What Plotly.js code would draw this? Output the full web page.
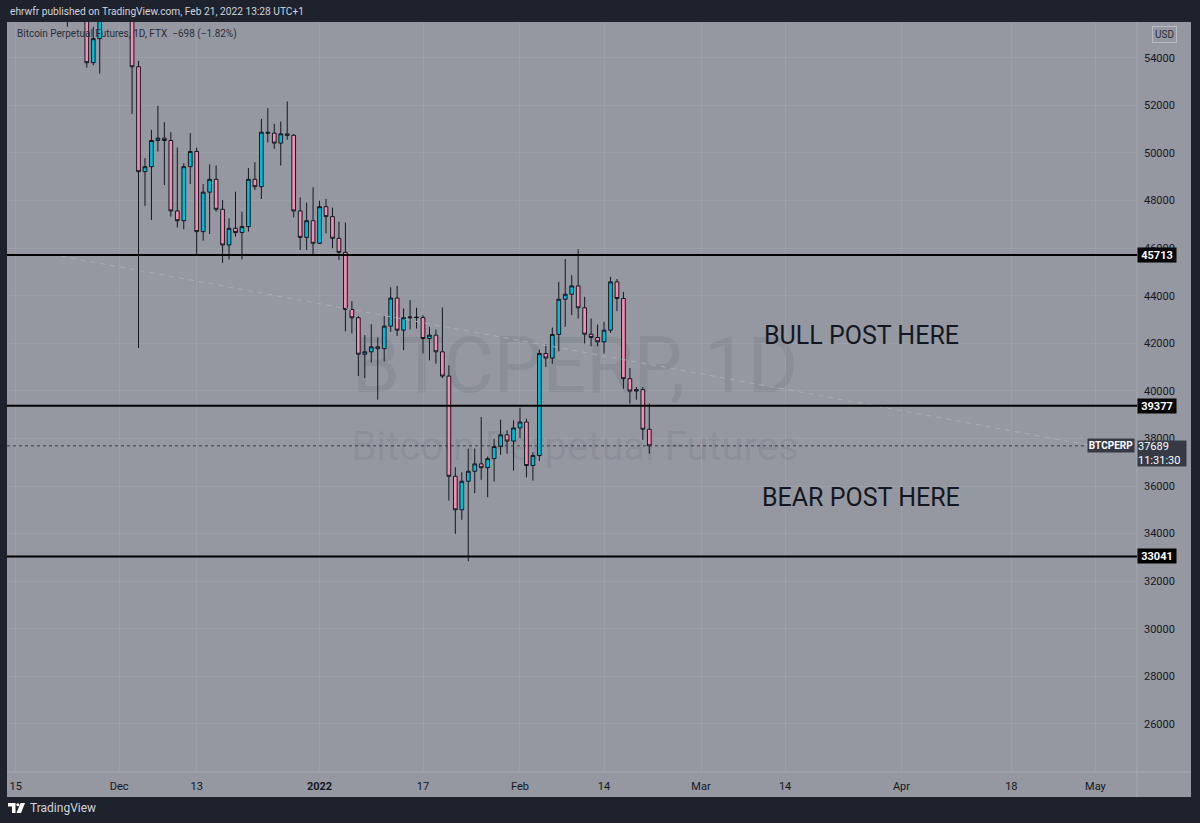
<!DOCTYPE html>
<html>
<head>
<meta charset="utf-8">
<script src="https://cdn.plot.ly/plotly-3.0.1.min.js"></script>
<style>
  html, body { margin: 0; padding: 0; background: #1e222d; }
  #chart { width: 1200px; height: 823px; }
</style>
</head>
<body>
<div id="chart"></div>
<script>
// ---------------- DATA ----------------
const dates = [
  '2021-11-14','2021-11-15','2021-11-16','2021-11-17','2021-11-18','2021-11-19','2021-11-20','2021-11-21',
  '2021-11-22','2021-11-23','2021-11-24','2021-11-25','2021-11-26','2021-11-27','2021-11-28','2021-11-29',
  '2021-11-30','2021-12-01','2021-12-02','2021-12-03','2021-12-04','2021-12-05','2021-12-06','2021-12-07',
  '2021-12-08','2021-12-09','2021-12-10','2021-12-11','2021-12-12','2021-12-13','2021-12-14','2021-12-15',
  '2021-12-16','2021-12-17','2021-12-18','2021-12-19','2021-12-20','2021-12-21','2021-12-22','2021-12-23',
  '2021-12-24','2021-12-25','2021-12-26','2021-12-27','2021-12-28','2021-12-29','2021-12-30','2021-12-31',
  '2022-01-01','2022-01-02','2022-01-03','2022-01-04','2022-01-05','2022-01-06','2022-01-07','2022-01-08',
  '2022-01-09','2022-01-10','2022-01-11','2022-01-12','2022-01-13','2022-01-14','2022-01-15','2022-01-16',
  '2022-01-17','2022-01-18','2022-01-19','2022-01-20','2022-01-21','2022-01-22','2022-01-23','2022-01-24',
  '2022-01-25','2022-01-26','2022-01-27','2022-01-28','2022-01-29','2022-01-30','2022-01-31','2022-02-01',
  '2022-02-02','2022-02-03','2022-02-04','2022-02-05','2022-02-06','2022-02-07','2022-02-08','2022-02-09',
  '2022-02-10','2022-02-11','2022-02-12','2022-02-13','2022-02-14','2022-02-15','2022-02-16','2022-02-17',
  '2022-02-18','2022-02-19','2022-02-20','2022-02-21'
];
const openP = [
  64400,65500,63600,60300,60400,56900,58100,59700,
  58700,56300,57600,57200,58900,53790,54800,57300,
  57800,57000,57200,56500,53620,49210,49420,50520,
  50620,50520,47560,47150,49420,50060,46690,48350,
  48890,47630,46130,46830,46650,46900,48890,48580,
  50870,50830,50410,50800,50740,47560,46450,47150,
  46200,47740,47320,46410,45820,43420,43070,41540,
  41640,41850,41770,42720,43900,42550,43070,43100,
  43080,42200,42340,41640,40620,36410,35000,36200,
  36620,36930,36770,37150,37660,38150,37890,38440,
  38690,36860,37280,41570,41380,42370,43850,44060,
  44410,43490,42380,42240,42060,42550,44580,43880,
  40510,39990,40050,38387
];
const highP = [
  65500,66300,63600,60800,60900,58300,59800,60000,
  59300,57900,57700,59400,59200,55300,57400,58900,
  59200,59100,57400,57600,53870,49780,50970,51980,
  51290,50870,50220,49560,50830,50220,48690,49520,
  49470,48020,47250,48370,47530,49360,49610,51430,
  51880,51220,51320,52160,50790,48130,47910,48550,
  47990,48060,47700,47110,47070,43770,43140,42340,
  42800,42240,43140,44350,44410,43460,43810,43490,
  43180,42690,42580,43500,41070,36790,36580,37570,
  37570,38900,37240,37990,38790,38340,38760,39290,
  38830,37420,41730,41960,42660,44580,45540,44860,
  45950,43950,43040,42790,42900,44790,44700,44160,
  40960,40160,40160,39460
];
const lowP = [
  63600,63500,58600,58400,56400,55700,57400,58500,
  55700,55300,55900,57000,53580,53680,53330,56700,
  56600,56500,55800,51640,41800,47770,47180,50060,
  48650,47320,46870,46790,48690,45710,46310,46590,
  47530,45380,45520,46480,45520,46690,48440,48060,
  50440,50170,49470,50550,47290,45920,45920,45700,
  46170,46620,45990,45500,42500,42410,40620,40540,
  41190,39630,41240,42480,42300,41710,42580,42620,
  41570,41280,41140,40540,35390,33990,34580,32840,
  35700,36260,35530,36190,37310,37360,36650,38010,
  36370,36230,37050,41000,41140,41660,42690,43180,
  43040,41990,41870,41870,41570,42440,43350,40090,
  39460,39630,37940,37360
];
const closeP = [
  65500,63600,60300,60400,56900,58100,59700,58700,
  56300,57600,57200,58900,53790,54800,57300,57800,
  57000,57200,56500,53620,49210,49420,50520,50620,
  50520,47560,47150,49420,50060,46690,48350,48890,
  47630,46130,46830,46650,46900,48890,48580,50870,
  50830,50410,50800,50740,47560,46450,47150,46200,
  47740,47320,46410,45820,43420,43070,41540,41640,
  41850,41770,42720,43900,42550,43070,43100,43080,
  42200,42340,41640,40620,36410,35000,36200,36620,
  36930,36770,37150,37660,38150,37890,38440,38690,
  36860,37280,41570,41380,42370,43850,44060,44410,
  43490,42380,42240,42060,42550,44580,43880,40510,
  39990,40050,38387,37689
];

// horizontal levels drawn on the chart
const levelPrices = [45713, 39377, 33041];
const lastPrice = 37689;
const lastCountdown = '11:31:30';

// dashed trend line (two anchor points)
const trendDates  = ['2021-11-22 00:00', '2022-05-07 00:00'];
const trendPrices = [45660, 37370];

// axis ticks
const xTickVals = ['2021-11-15','2021-12-01','2021-12-13','2022-01-01','2022-01-17','2022-02-01',
                   '2022-02-14','2022-03-01','2022-03-14','2022-04-01','2022-04-18','2022-05-01'];
const xTickText = ['15','Dec','13','<b>2022</b>','17','Feb','14','Mar','14','Apr','18','May'];
const yTickVals = [26000,28000,30000,32000,34000,36000,38000,40000,42000,44000,46000,48000,50000,52000,54000];

const xRange = ['2021-11-13 15:50', '2022-05-07 10:20'];
const yRange = [23982, 55500];

// ---------------- LAYOUT HELPERS ----------------
const W = 1200, H = 823;
const PL = 7, PR = 1137, PT = 22, PB = 772;
const px = x => (x - PL) / (PR - PL);
const py = y => (PB - y) / (PB - PT);

const FONT = 'Roboto, "Noto Sans", sans-serif';
const UP = '#00bcd4', DOWN = '#f48fb1', EDGE = '#131722';

const traces = [
  {
    type: 'scatter', mode: 'lines',
    x: trendDates, y: trendPrices,
    line: { color: 'rgba(172,175,184,0.9)', width: 1, dash: '5px,5px' },
    hoverinfo: 'skip', showlegend: false
  },
  {
    type: 'candlestick',
    x: dates, open: openP, high: highP, low: lowP, close: closeP,
    increasing: { line: { color: EDGE, width: 1 }, fillcolor: UP },
    decreasing: { line: { color: EDGE, width: 1 }, fillcolor: DOWN },
    whiskerwidth: 0,
    hoverinfo: 'skip', showlegend: false
  }
];

const shapes = [
  // gray chart panel
  { type: 'rect', xref: 'paper', yref: 'paper', x0: px(7), x1: px(1191), y0: py(797), y1: py(22),
    fillcolor: '#9598a1', line: { width: 0 }, layer: 'below' },
  // watermarks
  { type: 'rect', xref: 'paper', yref: 'paper', x0: px(300), x1: px(850), y0: py(400), y1: py(320),
    fillcolor: 'rgba(0,0,0,0)', line: { width: 0 }, layer: 'below',
    label: { text: 'BTCPERP, 1D', textposition: 'middle center',
             font: { family: FONT, size: 77, color: 'rgba(19,23,34,0.08)' } } },
  { type: 'rect', xref: 'paper', yref: 'paper', x0: px(300), x1: px(850), y0: py(465), y1: py(421),
    fillcolor: 'rgba(0,0,0,0)', line: { width: 0 }, layer: 'below',
    label: { text: 'Bitcoin Perpetual Futures', textposition: 'middle center',
             font: { family: FONT, size: 40, color: 'rgba(19,23,34,0.08)' } } },
  // axis separators
  { type: 'line', xref: 'paper', yref: 'paper', x0: px(1137), x1: px(1137), y0: py(797), y1: py(22),
    line: { color: '#a4a7b0', width: 1 } },
  { type: 'line', xref: 'paper', yref: 'paper', x0: px(7), x1: px(1191), y0: py(772), y1: py(772),
    line: { color: '#a4a7b0', width: 1 } },
  // current price dotted line
  { type: 'line', xref: 'paper', yref: 'y', x0: 0, x1: px(1087), y0: lastPrice, y1: lastPrice,
    line: { color: '#3a3e4a', width: 1, dash: 'dot' } },
  // TradingView logo
  { type: 'path', xref: 'paper', yref: 'paper',
    path: `M ${px(8)} ${py(803)} L ${px(15.5)} ${py(803)} L ${px(15.5)} ${py(813)} L ${px(12)} ${py(813)} L ${px(12)} ${py(806.5)} L ${px(8)} ${py(806.5)} Z`,
    fillcolor: '#ffffff', line: { width: 0 } },
  { type: 'circle', xref: 'paper', yref: 'paper', x0: px(16.3), x1: px(19.3), y0: py(806.3), y1: py(803.3),
    fillcolor: '#ffffff', line: { width: 0 } },
  { type: 'path', xref: 'paper', yref: 'paper',
    path: `M ${px(20.5)} ${py(803)} L ${px(25)} ${py(803)} L ${px(21)} ${py(813)} L ${px(16.5)} ${py(813)} Z`,
    fillcolor: '#ffffff', line: { width: 0 } }
];
levelPrices.forEach(p => shapes.push({
  type: 'line', xref: 'paper', yref: 'y', x0: 0, x1: 1, y0: p, y1: p,
  line: { color: '#000000', width: 2 }
}));

const annotations = [
  { xref: 'paper', yref: 'paper', x: px(8), y: py(12), xanchor: 'left', yanchor: 'middle', showarrow: false,
    text: 'ehrwfr published on TradingView.com, Feb 21, 2022 13:28 UTC+1',
    font: { family: FONT, size: 10.2, color: '#d1d4dc' } },
  { xref: 'paper', yref: 'paper', x: px(15), y: py(34), xanchor: 'left', yanchor: 'middle', showarrow: false,
    text: 'Bitcoin Perpetual Futures, 1D, FTX\u00a0\u00a0\u2212698 (\u22121.82%)',
    font: { family: FONT, size: 10, color: '#2a2e39' } },
  { xref: 'paper', yref: 'paper', x: px(861), y: py(335), xanchor: 'center', yanchor: 'middle', showarrow: false,
    text: 'BULL POST HERE', font: { family: FONT, size: 25, color: '#131722' } },
  { xref: 'paper', yref: 'paper', x: px(861), y: py(497), xanchor: 'center', yanchor: 'middle', showarrow: false,
    text: 'BEAR POST HERE', font: { family: FONT, size: 25, color: '#131722' } },
  { xref: 'paper', yref: 'paper', x: px(1164), y: py(35), xanchor: 'center', yanchor: 'middle', showarrow: false,
    text: 'USD', font: { family: FONT, size: 10, color: '#2a2e39' },
    bordercolor: '#b8bbc3', borderwidth: 1, borderpad: 2 },
  { xref: 'paper', yref: 'paper', x: px(28), y: py(808), xanchor: 'left', yanchor: 'middle', showarrow: false,
    text: 'TradingView', font: { family: FONT, size: 12, color: '#d1d4dc' } },
  // current price label
  { xref: 'paper', yref: 'y', x: 1, y: lastPrice, xanchor: 'left', yanchor: 'top', yshift: 6, showarrow: false,
    text: String(lastPrice) + '<br>' + lastCountdown, align: 'left',
    font: { family: FONT, size: 11, color: '#ffffff' },
    bgcolor: '#363a45', width: 48, height: 25, borderpad: 0 },
  { xref: 'paper', yref: 'y', x: px(1135), y: lastPrice, xanchor: 'right', yanchor: 'middle', showarrow: false,
    text: '<b>BTCPERP</b>', font: { family: FONT, size: 10, color: '#ffffff' },
    bgcolor: '#363a45', width: 46, height: 13, borderpad: 0 }
];
levelPrices.forEach(p => annotations.push({
  xref: 'paper', yref: 'y', x: 1, y: p, xanchor: 'left', yanchor: 'middle', showarrow: false,
  text: '<b>' + p + '</b>', font: { family: FONT, size: 11, color: '#ffffff' },
  bgcolor: '#000000', width: 38, height: 14, borderpad: 0
}));

const layout = {
  width: W, height: H, autosize: false,
  margin: { l: PL, r: W - PR, t: PT, b: H - PB, pad: 0 },
  paper_bgcolor: '#1e222d',
  plot_bgcolor: '#9598a1',
  boxgap: 0.18,
  showlegend: false,
  hovermode: false,
  font: { family: FONT, color: '#131722' },
  xaxis: {
    type: 'date', range: xRange, rangeslider: { visible: false },
    tickmode: 'array', tickvals: xTickVals, ticktext: xTickText,
    tickfont: { family: FONT, size: 11, color: '#131722' },
    showgrid: true, gridcolor: 'rgba(255,255,255,0.07)', gridwidth: 1,
    zeroline: false, showline: false, ticks: '', ticklabelstandoff: 6, fixedrange: true
  },
  yaxis: {
    side: 'right', range: yRange,
    tickmode: 'array', tickvals: yTickVals, tickformat: 'd',
    tickfont: { family: FONT, size: 11, color: '#131722' },
    showgrid: true, gridcolor: 'rgba(255,255,255,0.07)', gridwidth: 1,
    zeroline: false, showline: false, ticks: '', ticklabelstandoff: 6, fixedrange: true
  },
  shapes: shapes,
  annotations: annotations
};

Plotly.newPlot('chart', traces, layout, { staticPlot: true, displayModeBar: false });
</script>
</body>
</html>
